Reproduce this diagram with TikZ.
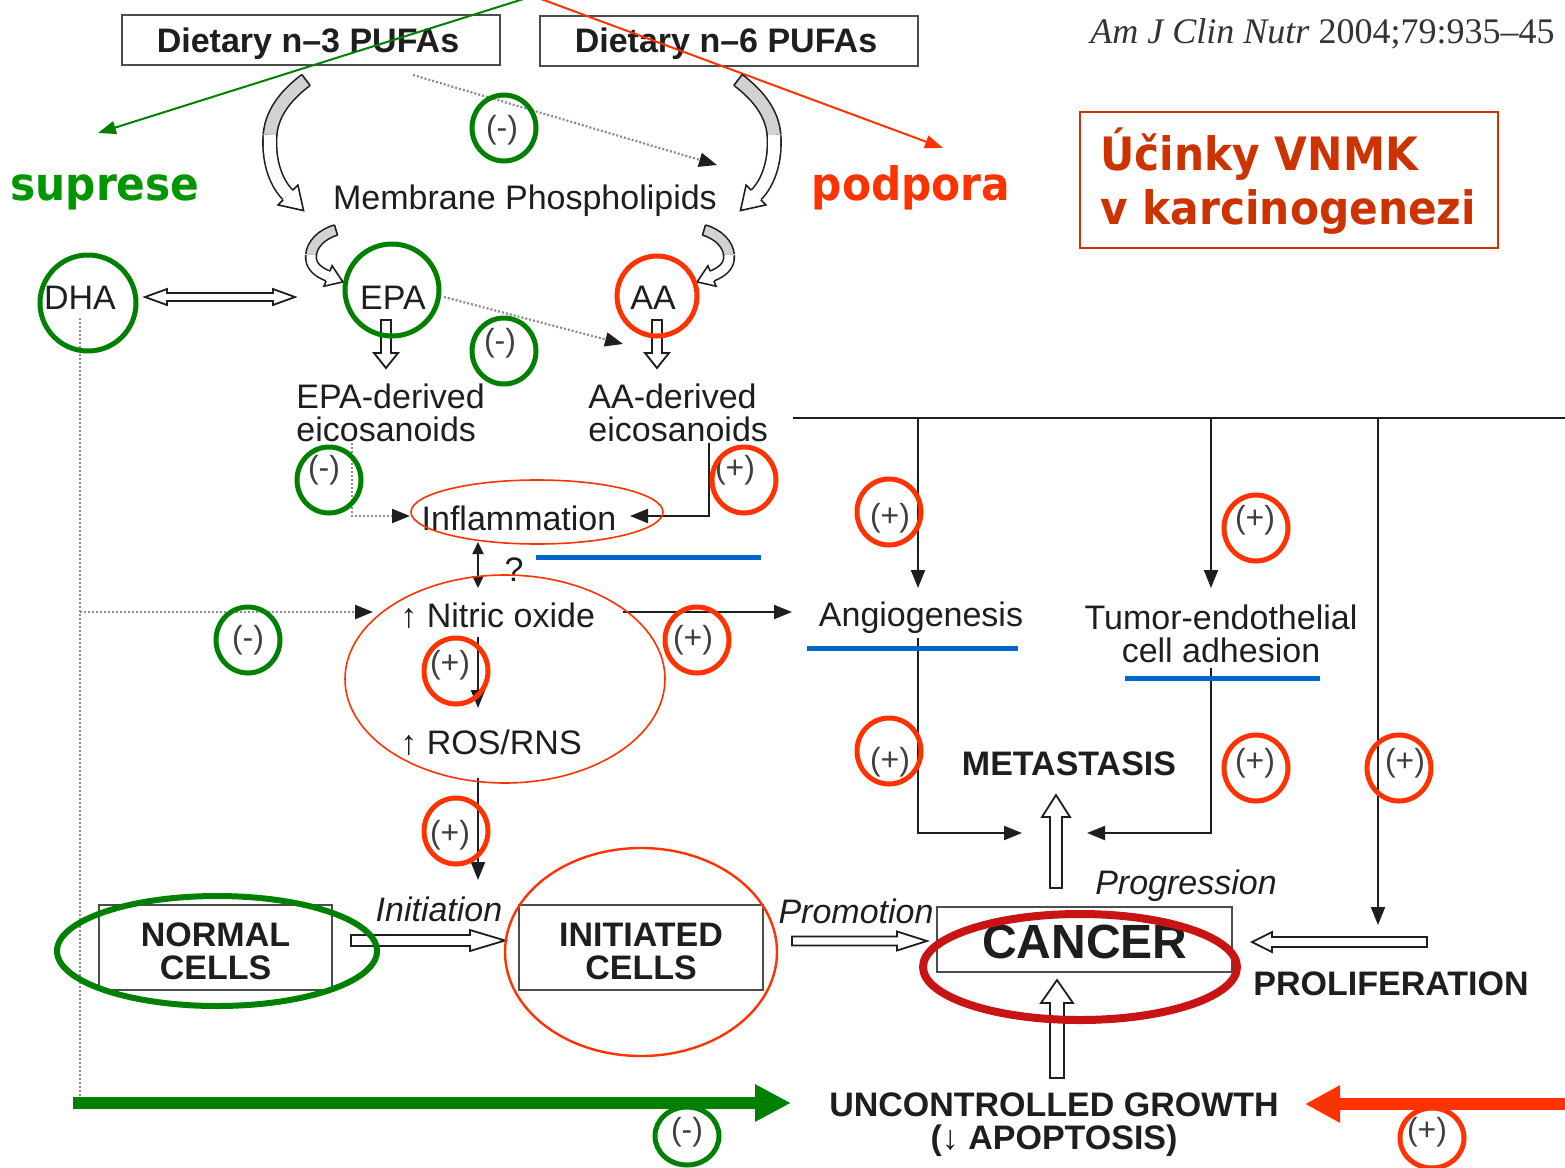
\documentclass[tikz,border=0pt]{standalone}
\usepackage{fontspec}
\setmainfont{Liberation Sans}
\newfontfamily\citefont{Liberation Serif}
\newfontfamily\czfont[FakeStretch=0.92]{DejaVu Sans}
\usetikzlibrary{arrows.meta,shapes.geometric}
\definecolor{mygreen}{RGB}{0,128,0}
\definecolor{supgreen}{RGB}{0,150,0}
\definecolor{myred}{RGB}{255,51,0}
\definecolor{titlered}{RGB}{204,51,0}
\definecolor{cancerred}{RGB}{200,20,20}
\definecolor{myblue}{RGB}{0,102,204}
\definecolor{ink}{RGB}{30,30,30}
\begin{document}
\begin{tikzpicture}[x=0.5pt,y=-0.5pt,
  t/.style={font=\fontsize{17}{16.5}\selectfont, text=ink, inner sep=0pt, align=center},
  tb/.style={t, font=\fontsize{17}{16.5}\selectfont\bfseries},
  ti/.style={t, font=\fontsize{17}{16.5}\selectfont\itshape},
  sg/.style={font=\fontsize{16}{16}\selectfont, text=black!75, inner sep=0pt},
  cz/.style={font=\czfont\fontsize{23}{27}\selectfont\bfseries, inner sep=0pt},
  bx/.style={draw=black!70, line width=1.2pt, inner sep=0pt, align=center, text=ink},
  ring/.style={ellipse, inner sep=0pt, line width=2.5pt, minimum width=32pt, minimum height=33pt},
  gring/.style={ring, draw=mygreen},
  rring/.style={ring, draw=myred},
  ln/.style={draw=ink, line width=1pt},
  arr/.style={draw=ink, line width=1pt, -{Triangle[length=9pt,width=7pt]}},
  dotln/.style={draw=black!45, line width=1.1pt, dash pattern=on 1pt off 1pt},
  dotarr/.style={dotln, -{Triangle[length=9pt,width=7pt,color=ink]}},
  blk/.style={draw=ink, line width=0.9pt, fill=white},
  cur/.style={draw=ink, line width=0.8pt},
  pics/barrow/.style n args={4}{code={
    \path[blk] (0,-#2) -- (#1-#4,-#2) -- (#1-#4,-#3) -- (#1,0) -- (#1-#4,#3) -- (#1-#4,#2) -- (0,#2) -- cycle;}},
  pics/dbarrow/.style n args={4}{code={
    \path[blk] (0,0) -- (#4,-#3) -- (#4,-#2) -- (#1-#4,-#2) -- (#1-#4,-#3) -- (#1,0) -- (#1-#4,#3) -- (#1-#4,#2) -- (#4,#2) -- (#4,#3) -- cycle;}},
  pics/chead/.style n args={3}{code={
    \fill[white] (0,-#2) -- (#1,0) -- (0,#2) -- cycle;
    \draw[cur] (0,-#3) -- (0,-#2) -- (#1,0) -- (0,#2) -- (0,#3);}}
]
\useasboundingbox (0,0) rectangle (1565,1168);
\fill[white] (0,0) rectangle (1565,1168);

% ---------- top boxes and titles
\node[bx, minimum width=189pt, minimum height=25pt] (n3box) at (311,40) {};
\node[tb] (n3) at (308,44) {Dietary n–3 PUFAs};
\node[bx, minimum width=189pt, minimum height=25pt] (n6box) at (729,41) {};
\node[tb] (n6) at (726,44) {Dietary n–6 PUFAs};
\node[anchor=base west, inner sep=0pt, text=black!80, font=\citefont\fontsize{18}{20}\selectfont] (cite) at (1090,43) {\textit{Am J Clin Nutr} 2004;79:935–45};

\node[draw=titlered, line width=0.8pt, minimum width=209pt, minimum height=68pt, inner sep=0pt] (tbox) at (1289,180) {};
\node[cz, anchor=base west, text=titlered] (t1) at (1100,170) {Účinky VNMK};
\node[cz, anchor=base west, text=titlered] (t2) at (1100,224) {v karcinogenezi};
\node[cz, anchor=base, text=supgreen] (sup) at (105,200) {suprese};
\node[cz, anchor=base, text=myred] (pod) at (911,200) {podpora};

\coordinate (apex) at (533,-4);
\coordinate (supTip) at (98,133);
\coordinate (podTip) at (943,148);
\draw[mygreen, line width=1pt, -{Triangle[length=9pt,width=6.5pt]}] (apex) -- (supTip);
\draw[myred, line width=1pt, -{Triangle[length=9pt,width=6.5pt]}] (apex) -- (podTip);

% ---------- texts
\node[t] (mp) at (525,201) {Membrane Phospholipids};
\node[t] (dha) at (80,298) {DHA};
\node[t] (epa) at (393,298) {EPA};
\node[t] (aa) at (653,298) {AA};
\node[t, align=left, anchor=west] (epad) at (296,413) {EPA-derived\\eicosanoids};
\node[t, align=left, anchor=west] (aad) at (588,413) {AA-derived\\eicosanoids};
\node[t] (infl) at (519,518) {Inflammation};
\node[t] (q) at (514,570) {?};
\node[t, anchor=west] (no) at (400,616) {↑ Nitric oxide};
\node[t, anchor=west] (ros) at (400,743) {↑ ROS/RNS};
\node[t] (angio) at (921,618) {Angiogenesis};
\node[t] (tum) at (1221,634) {Tumor-endothelial\\cell adhesion};
\node[tb] (meta) at (1069,764) {METASTASIS};
\node[ti] (init) at (439,909) {Initiation};
\node[ti] (prom) at (856,911) {Promotion};
\node[ti] (prog) at (1186,886) {Progression};
\node[tb] (prolif) at (1391,984) {PROLIFERATION};
\node[tb] (ug) at (1054,1125) {UNCONTROLLED GROWTH\\(↓ APOPTOSIS)};

\node[bx, minimum width=116.5pt, minimum height=42.5pt] (normalbox) at (215.5,947.5) {};
\node[tb] (normal) at (215.5,951) {NORMAL\\CELLS};
\node[bx, minimum width=122pt, minimum height=42.5pt] (initbox) at (641,947.5) {};
\node[tb] (initc) at (641,951) {INITIATED\\CELLS};
\node[bx, minimum width=147.5pt, minimum height=32.5pt] (cancerbox) at (1084.5,939.5) {};
\node[t, font=\fontsize{24}{24}\selectfont\bfseries] (cancer) at (1085,942) {CANCER};

% ---------- curved hollow arrows
\draw[cur, double=gray!35, double distance=6pt] (306,80) .. controls (290,92) and (272,110) .. (270,135);
\draw[cur, double=white, double distance=6pt] (270,135) .. controls (268,165) and (278,185) .. (288,195);
\draw[cur] (301.9,74.6) -- (310.1,85.4);
\pic[rotate=-45] at (288,195) {chead={22}{14}{6.8}};

\draw[cur, double=gray!35, double distance=6pt] (738,80) .. controls (754,92) and (772,110) .. (774,135);
\draw[cur, double=white, double distance=6pt] (774,135) .. controls (776,165) and (766,185) .. (756,195);
\draw[cur] (742.1,74.6) -- (733.9,85.4);
\pic[rotate=-135] at (756,195) {chead={22}{14}{6.8}};

\draw[cur, double=gray!35, double distance=4.5pt] (336,230) .. controls (322,234) and (312,244) .. (311,255);
\draw[cur, double=white, double distance=4.5pt] (311,255) .. controls (310,266) and (318,272) .. (328,276);
\draw[cur] (337.5,235.1) -- (334.5,224.9);
\pic[rotate=-21.7] at (328,276) {chead={16}{11}{5.3}};

\draw[cur, double=gray!35, double distance=4.5pt] (704,230) .. controls (718,234) and (728,244) .. (729,255);
\draw[cur, double=white, double distance=4.5pt] (729,255) .. controls (730,266) and (722,272) .. (712,276);
\draw[cur] (702.5,235.1) -- (705.5,224.9);
\pic[rotate=-158.3] at (712,276) {chead={16}{11}{5.3}};

% ---------- block arrows
\pic at (145,297) {dbarrow={150}{4}{8}{22}};
\pic[rotate=-90] at (386,320) {barrow={48}{5}{12}{15}};
\pic[rotate=-90] at (657,320) {barrow={48}{5}{12}{15}};
\pic at (351,940.5) {barrow={154}{5.5}{10.5}{35}};
\pic at (792,941) {barrow={135}{4.5}{9.5}{30}};
\pic[rotate=180] at (1427,942) {barrow={175}{5}{10}{20}};
\pic[rotate=90] at (1056,888) {barrow={93}{6}{14}{22}};
\pic[rotate=90] at (1057,1078) {barrow={98}{7}{16}{23}};

% ---------- dotted connectors
\coordinate (d1s) at (413,75);  \coordinate (d1e) at (717,165);
\draw[dotarr] (d1s) -- (d1e);
\coordinate (d2s) at (444,297); \coordinate (d2e) at (623,344);
\draw[dotarr] (d2s) -- (d2e);
\coordinate (dhaTop) at (80,318); \coordinate (dhaBot) at (80,1097);
\draw[dotln] (dhaTop) -- (dhaBot);
\coordinate (dhaNO) at (80,612); \coordinate (noIn) at (373,612);
\draw[dotarr] (dhaNO) -- (noIn);
\coordinate (epadB) at (352,443); \coordinate (inflL) at (410,516);
\draw[dotarr] (epadB) |- (inflL);

% ---------- solid connectors
\coordinate (aadB) at (709,443); \coordinate (inflR) at (630,516);
\draw[arr] (aadB) |- (inflR);
\coordinate (ud1) at (478,542); \coordinate (ud2) at (478,588);
\draw[draw=ink, line width=1pt, {Triangle[length=6pt,width=5.5pt]}-{Triangle[length=6pt,width=5.5pt]}] (ud1) -- (ud2);
\coordinate (noB) at (478,637); \coordinate (rosT) at (478,708);
\draw[arr] (noB) -- (rosT);
\coordinate (rosB) at (478,778); \coordinate (initT) at (478,880);
\draw[arr] (rosB) -- (initT);
\coordinate (noR) at (623,612); \coordinate (angL) at (792,612);
\draw[arr] (noR) -- (angL);

\coordinate (hl) at (793,418); \coordinate (hr) at (1566,418);
\draw[ln] (hl) -- (hr);
\coordinate (a1) at (918,418); \coordinate (a1e) at (918,588);
\coordinate (a2) at (1211,418); \coordinate (a2e) at (1211,588);
\coordinate (a3) at (1378,418); \coordinate (a3e) at (1378,925);
\draw[arr] (a1) -- (a1e);
\draw[arr] (a2) -- (a2e);
\draw[arr] (a3) -- (a3e);
\coordinate (angB) at (918,638); \coordinate (metL) at (1022,833);
\draw[arr] (angB) |- (metL);
\coordinate (tumB) at (1211,668); \coordinate (metR) at (1087,833);
\draw[arr] (tumB) |- (metR);

% ---------- big coloured arrows
\coordinate (gS) at (73,1103); \coordinate (gE) at (791,1103);
\draw[mygreen, line width=6pt, -{Triangle[length=18pt,width=17.5pt]}] (gS) -- (gE);
\coordinate (rS) at (1570,1104); \coordinate (rE) at (1305,1104);
\draw[myred, line width=6pt, -{Triangle[length=17.5pt,width=17.5pt]}] (rS) -- (rE);

% ---------- blue underlines
\draw[myblue, line width=2.5pt] (536,557) -- (761,557);
\draw[myblue, line width=2.5pt] (807,648) -- (1018,648);
\draw[myblue, line width=2.5pt] (1125,678) -- (1320,678);

% ---------- sign labels
\node[sg] (s1) at (502,130) {(-)};
\node[sg] (s2) at (500,343) {(-)};
\node[sg] (s3) at (324,470) {(-)};
\node[sg] (s4) at (248,640) {(-)};
\node[sg] (s5) at (687,1132) {(-)};
\node[sg] (p1) at (735,470) {(+)};
\node[sg] (p2) at (890,518) {(+)};
\node[sg] (p3) at (1255,520) {(+)};
\node[sg] (p4) at (693,640) {(+)};
\node[sg] (p5) at (450,665) {(+)};
\node[sg] (p6) at (450,835) {(+)};
\node[sg] (p7) at (890,762) {(+)};
\node[sg] (p8) at (1255,763) {(+)};
\node[sg] (p9) at (1405,763) {(+)};
\node[sg] (p10) at (1427,1132) {(+)};

% ---------- rings
\node[gring] (g1) at (504,128) {};
\node[gring, minimum width=48pt, minimum height=48pt] (gDHA) at (88,303) {};
\node[gring, minimum width=47pt, minimum height=46pt] (gEPA) at (392,290) {};
\node[gring] (g2) at (504,351) {};
\node[gring] (g3) at (329,480) {};
\node[gring] (g4) at (248,640) {};
\node[gring, minimum height=29pt] (g5) at (687,1136) {};
\node[gring, line width=3pt, minimum width=160pt, minimum height=55pt] (gNorm) at (217,951) {};

\node[rring, minimum width=40pt, minimum height=40pt] (rAA) at (657,296) {};
\node[rring] (r1) at (744,480) {};
\node[rring] (r2) at (889,512) {};
\node[rring] (r3) at (1256,528) {};
\node[rring] (r4) at (697,640) {};
\node[rring] (r5) at (456,671) {};
\node[rring] (r6) at (456,831) {};
\node[rring] (r7) at (889,751) {};
\node[rring] (r8) at (1256,768) {};
\node[rring] (r9) at (1399,768) {};
\node[rring, minimum height=30pt] (r10) at (1432,1138) {};

\node[ellipse, draw=myred, line width=0.8pt, minimum width=126pt, minimum height=32pt] (eInfl) at (537,512) {};
\node[ellipse, draw=myred, line width=0.8pt, minimum width=160pt, minimum height=104pt] (eNO) at (505,679) {};
\node[ellipse, draw=myred, line width=1.2pt, minimum width=136pt, minimum height=104pt] (eInit) at (641,952) {};
\node[ellipse, draw=cancerred, line width=4pt, minimum width=157pt, minimum height=53pt] (eCan) at (1080,967) {};
\end{tikzpicture}
\end{document}
